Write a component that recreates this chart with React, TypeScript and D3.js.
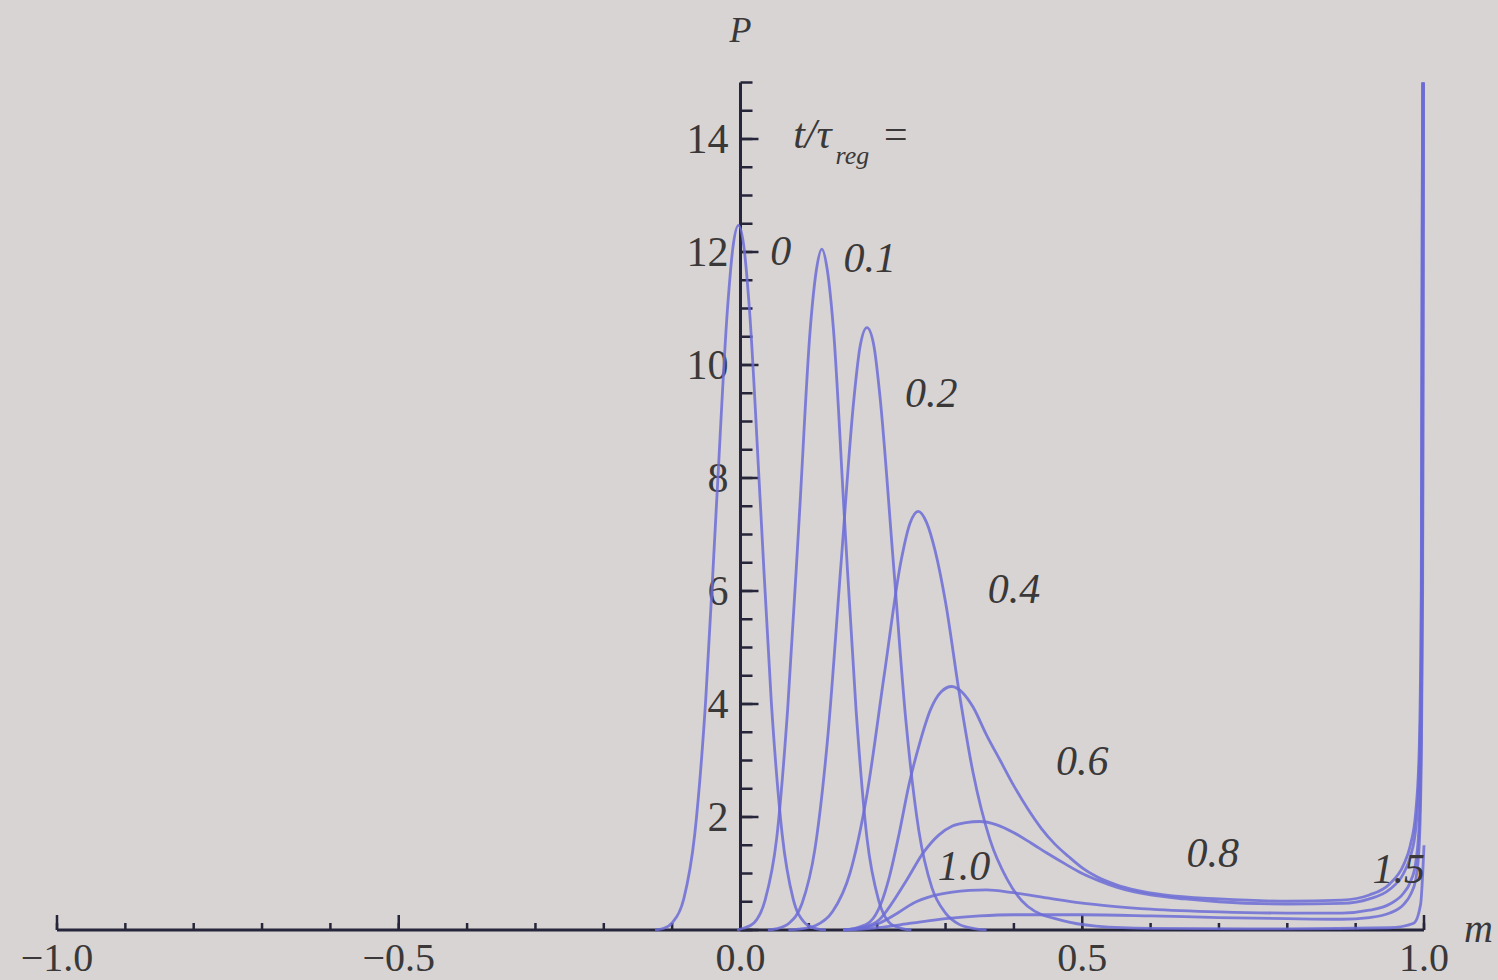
import React from "react";
import * as d3 from "d3";

type Pt = [number, number];

// P(m), one array per t/τ_reg
const curveT00: Pt[] = [
	[-0.125, 0], [-0.112, 0.03], [-0.099, 0.14], [-0.083, 0.55], [-0.067, 1.69],
	[-0.051, 4.05], [-0.035, 7.56], [-0.019, 11.0], [-0.011, 12.09], [-0.003, 12.47],
	[0.005, 12.09], [0.013, 11.0], [0.029, 7.56], [0.045, 4.05], [0.061, 1.69],
	[0.077, 0.55], [0.093, 0.14], [0.109, 0.03], [0.125, 0],
];
const curveT01: Pt[] = [
	[-0.005, 0], [0.004, 0.03], [0.02, 0.13], [0.036, 0.53], [0.053, 1.63],
	[0.069, 3.91], [0.086, 7.31], [0.102, 10.63], [0.111, 11.68], [0.119, 12.05],
	[0.127, 11.68], [0.136, 10.63], [0.152, 7.31], [0.169, 3.91], [0.185, 1.63],
	[0.202, 0.53], [0.218, 0.13], [0.235, 0.03], [0.25, 0],
];
const curveT02: Pt[] = [
	[0.04, 0], [0.052, 0.02], [0.071, 0.12], [0.09, 0.47], [0.109, 1.44],
	[0.128, 3.46], [0.147, 6.47], [0.166, 9.41], [0.175, 10.33], [0.185, 10.66],
	[0.195, 10.35], [0.204, 9.45], [0.223, 6.6], [0.242, 3.7], [0.261, 1.75],
	[0.28, 0.75], [0.3, 0.3], [0.32, 0.1], [0.34, 0.03], [0.36, 0],
];
const curveT04: Pt[] = [
	[0.07, 0], [0.085, 0.015], [0.11, 0.08], [0.135, 0.33], [0.16, 1.0],
	[0.185, 2.4], [0.21, 4.49], [0.235, 6.54], [0.248, 7.2], [0.26, 7.41],
	[0.272, 7.22], [0.285, 6.7], [0.3, 5.8], [0.32, 4.2], [0.34, 2.8],
	[0.365, 1.6], [0.39, 0.9], [0.42, 0.42], [0.47, 0.17], [0.52, 0.07],
	[0.6, 0.03], [0.8, 0.02], [0.95, 0.04], [0.985, 0.12], [0.995, 0.45], [1.0, 1.5],
];
const curveT06: Pt[] = [
	[0.15, 0], [0.17, 0.04], [0.19, 0.15], [0.205, 0.45], [0.218, 0.95],
	[0.232, 1.7], [0.247, 2.6], [0.262, 3.3], [0.278, 3.9], [0.294, 4.22],
	[0.309, 4.31], [0.325, 4.2], [0.34, 3.95], [0.36, 3.45], [0.38, 3.0],
	[0.4, 2.55], [0.42, 2.15], [0.44, 1.8], [0.46, 1.52], [0.48, 1.3],
	[0.5, 1.1], [0.52, 0.95], [0.55, 0.8], [0.58, 0.7], [0.62, 0.62],
	[0.7, 0.55], [0.8, 0.51], [0.88, 0.53], [0.92, 0.62], [0.95, 0.82],
	[0.97, 1.15], [0.98, 1.5], [0.988, 2.1], [0.993, 3.2], [0.996, 6], [0.998, 15.5],
];
const curveT08: Pt[] = [
	[0.15, 0], [0.18, 0.05], [0.203, 0.18], [0.218, 0.41], [0.243, 0.88],
	[0.267, 1.36], [0.29, 1.68], [0.31, 1.84], [0.33, 1.9], [0.35, 1.92],
	[0.375, 1.86], [0.4, 1.72], [0.425, 1.54], [0.45, 1.35], [0.475, 1.17],
	[0.5, 1.0], [0.525, 0.87], [0.55, 0.76], [0.6, 0.62], [0.65, 0.55],
	[0.7, 0.5], [0.8, 0.46], [0.88, 0.47], [0.92, 0.55], [0.95, 0.72],
	[0.97, 1.0], [0.98, 1.3], [0.988, 1.8], [0.993, 2.8], [0.996, 5], [0.998, 15.5],
];
const curveT10: Pt[] = [
	[0.15, 0], [0.175, 0.03], [0.203, 0.12], [0.23, 0.3], [0.252, 0.47],
	[0.28, 0.6], [0.31, 0.67], [0.335, 0.7], [0.36, 0.71], [0.399, 0.66],
	[0.448, 0.57], [0.497, 0.48], [0.545, 0.42], [0.6, 0.37], [0.7, 0.32],
	[0.8, 0.3], [0.88, 0.3], [0.92, 0.35], [0.95, 0.46], [0.97, 0.65],
	[0.98, 0.85], [0.988, 1.2], [0.993, 1.9], [0.996, 3.5], [0.998, 7], [0.9995, 15.5],
];
const curveT15: Pt[] = [
	[0.15, 0], [0.2, 0.04], [0.25, 0.12], [0.3, 0.2], [0.35, 0.25],
	[0.4, 0.27], [0.5, 0.27], [0.6, 0.25], [0.7, 0.22], [0.8, 0.2],
	[0.88, 0.19], [0.92, 0.22], [0.95, 0.3], [0.97, 0.45], [0.98, 0.62],
	[0.988, 0.9], [0.993, 1.5], [0.996, 3], [0.998, 6], [0.9995, 15.5],
];

const curves = [curveT00, curveT01, curveT02, curveT04, curveT06, curveT08, curveT10, curveT15];

// curve labels, anchored in data units (m, P)
const labelText = ["0", "0.1", "0.2", "0.4", "0.6", "0.8", "1.0", "1.5"];
const labelM = [0.059, 0.189, 0.279, 0.4, 0.5, 0.691, 0.327, 0.963];
const labelP = [11.77, 11.65, 9.26, 5.79, 2.74, 1.12, 0.885, 0.83];

// "t/τ_reg =" heading
const headM = 0.077;
const headP = 13.84;

const xTickLabels = ["\u22121.0", "\u22120.5", "0.0", "0.5", "1.0"];
const yTickLabels = ["2", "4", "6", "8", "10", "12", "14"];

const W = 1498;
const H = 980;
const BG = "#d7d4d3";
const AXIS = "#26253a";
const INK = "#3a3838";
const CURVE = "#6c6cd6";
const SERIF = "'Liberation Serif', 'DejaVu Serif', serif";

export default function App() {
	const x = d3.scaleLinear().domain([-1, 1]).range([57, 1424]);
	const y = d3.scaleLinear().domain([0, 15]).range([930, 82.5]);

	const line = d3
		.line<Pt>()
		.x((d) => x(d[0]))
		.y((d) => y(d[1]))
		.curve(d3.curveMonotoneX);

	const xMajor = x.ticks(4);
	const xMinor = x.ticks(20);
	const yMajor = y.ticks(8);
	const yMinor = y.ticks(30);

	const x0 = x(0);
	const y0 = y(0);

	return (
		<svg
			width={W}
			height={H}
			style={{ position: "absolute", left: 0, top: 0, display: "block" }}
		>
			<defs>
				<clipPath id="plot">
					<rect x={0} y={y(15)} width={W} height={y0 - y(15) + 6} />
				</clipPath>
			</defs>
			<rect width={W} height={H} fill={BG} />

			{/* axes */}
			<line x1={x(-1)} x2={x(1)} y1={y0} y2={y0} stroke={AXIS} strokeWidth={3} />
			<line x1={x0} x2={x0} y1={y0} y2={y(15)} stroke={AXIS} strokeWidth={3} />
			{xMinor.map((v) => (
				<line key={"xm" + v} x1={x(v)} x2={x(v)} y1={y0} y2={y0 - 7} stroke={AXIS} strokeWidth={2.5} />
			))}
			{xMajor.map((v) => (
				<line key={"xM" + v} x1={x(v)} x2={x(v)} y1={y0} y2={y0 - 15} stroke={AXIS} strokeWidth={2.5} />
			))}
			{yMinor.map((v) => (
				<line key={"ym" + v} x1={x0} x2={x0 + 12} y1={y(v)} y2={y(v)} stroke={AXIS} strokeWidth={2.5} />
			))}
			{yMajor.map((v) => (
				<line key={"yM" + v} x1={x0} x2={x0 + 18} y1={y(v)} y2={y(v)} stroke={AXIS} strokeWidth={2.5} />
			))}

			{/* tick labels */}
			<g fontFamily={SERIF} fill={INK}>
				{xMajor.map((v, i) => (
					<text key={"xl" + v} x={x(v)} y={971} fontSize={40} textAnchor="middle">
						{xTickLabels[i]}
					</text>
				))}
				{yMajor
					.filter((v) => v > 0)
					.map((v, i) => (
						<text key={"yl" + v} x={x0 - 12} y={y(v) + 14} fontSize={42} textAnchor="end">
							{yTickLabels[i]}
						</text>
					))}
			</g>

			{/* axis titles */}
			<g fontFamily={SERIF} fontStyle="italic" fill={INK}>
				<text x={x0} y={42} fontSize={36} textAnchor="middle">P</text>
				<text x={1464} y={942} fontSize={40}>m</text>
			</g>

			{/* curves */}
			<g clipPath="url(#plot)">
				{curves.map((c, i) => (
					<path
						key={"c" + i}
						d={line(c) ?? ""}
						fill="none"
						stroke={CURVE}
						strokeOpacity={0.85}
						strokeWidth={2.8}
						strokeLinejoin="round"
					/>
				))}
			</g>

			{/* annotations */}
			<g fontFamily={SERIF} fontStyle="italic" fill={INK} fontSize={42}>
				<text x={x(headM)} y={y(headP)} fontSize={42}>
					t/τ
					<tspan fontSize={26} dy={16} dx={4}>reg</tspan>
					<tspan fontSize={42} dy={-16} dx={12}>=</tspan>
				</text>
				{labelText.map((t, i) => (
					<text key={"lb" + t} x={x(labelM[i])} y={y(labelP[i])} textAnchor="middle">
						{t}
					</text>
				))}
			</g>
		</svg>
	);
}
